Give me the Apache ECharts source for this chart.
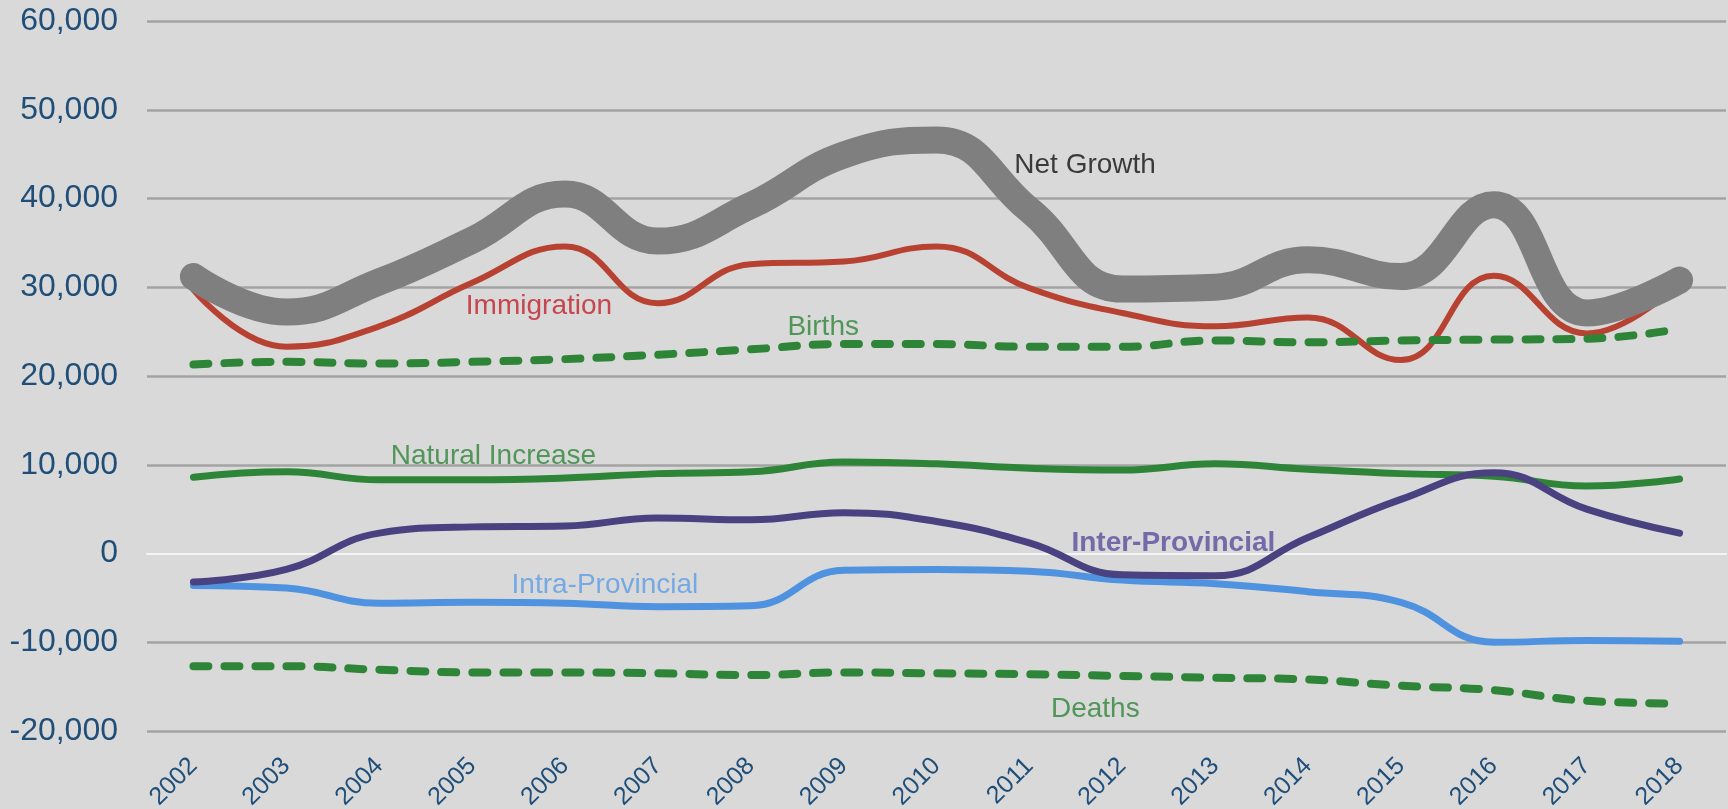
<!DOCTYPE html>
<html>
<head>
<meta charset="utf-8">
<script src="https://cdn.jsdelivr.net/npm/echarts@6/dist/echarts.min.js"></script>
<style>
html,body{margin:0;padding:0;background:#d9d9d9;}
#chart{width:1728px;height:809px;}
</style>
</head>
<body>
<div id="chart"></div>
<script>
var years = ['2002','2003','2004','2005','2006','2007','2008','2009','2010','2011','2012','2013','2014','2015','2016','2017','2018'];
var netGrowth = [31200, 27200, 30600, 35300, 40500, 35200, 39200, 44900, 46600, 38700, 29800, 30000, 33100, 31200, 39300, 27100, 30800];
var immigration = [29700, 23300, 25600, 30500, 34600, 28200, 32600, 32900, 34600, 29900, 27100, 25600, 26600, 21800, 31300, 24800, 30500];
var births = [21300, 21600, 21400, 21600, 21900, 22400, 23000, 23600, 23600, 23300, 23300, 24000, 23800, 24000, 24100, 24200, 25300];
var naturalIncrease = [8600, 9200, 8300, 8300, 8500, 9000, 9200, 10300, 10100, 9600, 9400, 10100, 9500, 9000, 8700, 7600, 8400];
var interProvincial = [-3200, -1800, 2300, 3000, 3100, 4000, 3800, 4600, 3600, 1200, -2400, -2500, 1800, 6100, 9100, 5000, 2300];
var intraProvincial = [-3600, -3900, -5600, -5500, -5600, -6000, -5900, -1900, -1800, -2000, -3000, -3400, -4300, -5500, -10000, -9800, -9900];
var deaths = [-12700, -12700, -13100, -13400, -13400, -13500, -13700, -13400, -13500, -13600, -13800, -14000, -14200, -14900, -15400, -16600, -16900];
// series label annotations: [category position, value, text]
var labelNames = ['Net Growth','Immigration','Births','Natural Increase','Inter-Provincial','Intra-Provincial','Deaths'];
var labelX = [9.6, 3.72, 6.78, 3.23, 10.55, 4.43, 9.71];
var labelY = [43700, 27800, 25500, 10900, 1100, -3600, -17600];

var C = {
  net: '#7f7f7f', imm: '#b84232', green: '#2e8538', inter: '#4a4280', intra: '#4f93e0'
};
var labelColors = ['#111111', '#c0202a', '#2e8538', '#2e8538', '#5a4c9c', '#5b9ce6', '#2e8538'];
var labelBold = [false, false, false, false, true, false, false];

var FONT = '"Liberation Sans", Arial, sans-serif';

function lineSeries(name, data, color, width, dashed, z) {
  return {
    name: name, type: 'line', data: data, smooth: 0.45, showSymbol: false, symbol: 'none',
    z: z, silent: true,
    lineStyle: {
      color: color, width: width, cap: 'round', join: 'round',
      type: dashed ? [15, 16] : 'solid'
    }
  };
}

var labelData = labelNames.map(function (n, i) {
  return {
    value: [labelX[i], labelY[i]],
    label: { formatter: n, color: labelColors[i], fontWeight: labelBold[i] ? 'bold' : 'normal' }
  };
});

var chart = echarts.init(document.getElementById('chart'), null, { renderer: 'canvas' });
chart.setOption({
  backgroundColor: '#d9d9d9',
  animation: false,
  grid: { left: 147, right: 2, top: 21, bottom: 78, containLabel: false, outerBoundsMode: 'none' },
  xAxis: [{
    type: 'category', data: years, boundaryGap: true,
    axisLine: { show: true, onZero: true, lineStyle: { color: '#f4f4f4', width: 2 } },
    axisTick: { show: false },
    axisLabel: { rotate: 45, margin: 31, fontSize: 25, color: '#1f4e79', fontFamily: FONT },
    splitLine: { show: false }
  }, {
    type: 'value', min: -0.5, max: 16.5, show: false
  }],
  yAxis: {
    type: 'value', min: -20000, max: 60000, interval: 10000,
    axisLine: { show: false }, axisTick: { show: false },
    axisLabel: {
      margin: 29, fontSize: 32, color: '#1f4e79', fontFamily: FONT,
      formatter: function (v) { return v.toLocaleString('en-US'); }
    },
    splitLine: { show: true, lineStyle: { color: ['#a3a3a3', '#a3a3a3', 'rgba(0,0,0,0)', '#a3a3a3', '#a3a3a3', '#a3a3a3', '#a3a3a3', '#a3a3a3', '#a3a3a3'], width: 2.5 } }
  },
  series: [
    lineSeries('Immigration', immigration, C.imm, 6, false, 2),
    lineSeries('Intra-Provincial', intraProvincial, C.intra, 7, false, 3),
    lineSeries('Natural Increase', naturalIncrease, C.green, 7, false, 4),
    lineSeries('Inter-Provincial', interProvincial, C.inter, 7, false, 5),
    lineSeries('Births', births, C.green, 8, true, 6),
    lineSeries('Deaths', deaths, C.green, 8, true, 6),
    lineSeries('Net Growth', netGrowth, C.net, 27, false, 7),
    {
      type: 'scatter', xAxisIndex: 1, symbolSize: 0, silent: true, z: 10,
      data: labelData,
      label: { show: true, position: 'inside', fontSize: 28, fontFamily: FONT }
    }
  ]
});
</script>
</body>
</html>
